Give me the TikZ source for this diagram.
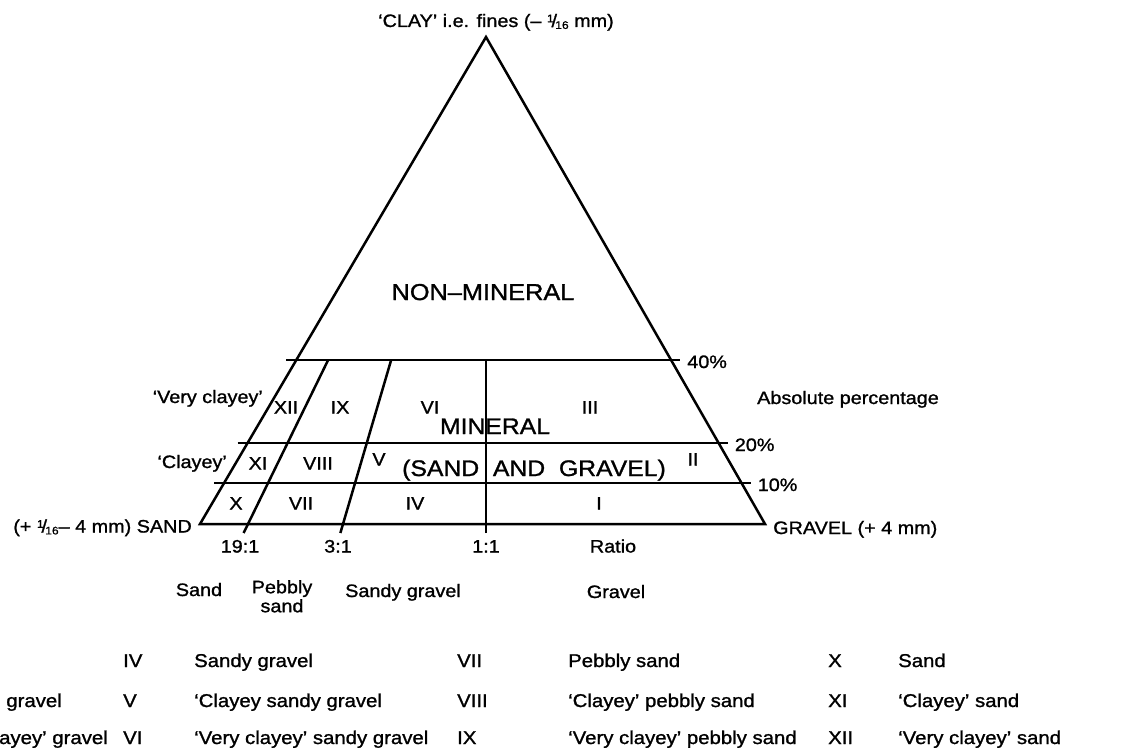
\documentclass[tikz,border=0pt]{standalone}
\usepackage{fontspec}
\setmainfont{Liberation Sans}[FakeStretch=1.1, FakeBold=1.2]
\usetikzlibrary{calc,positioning}
\newcommand{\sixteenth}{\raisebox{.5ex}{\fontsize{11}{11}\selectfont 1}\kern-.12em/\kern-.1em\raisebox{-.2ex}{\fontsize{11}{11}\selectfont 16}}

\begin{document}
\begin{tikzpicture}[x=1pt, y=-1pt,
  edge/.style={line width=2.5pt},
  lbl/.style={inner sep=0pt, anchor=base, font=\fontsize{18}{19}\selectfont},
  big/.style={inner sep=0pt, anchor=base, font=\fontsize{23}{26}\selectfont},
  pct/.style={lbl, anchor=base west, xshift=6pt, yshift=-8pt},
  key/.style={inner sep=0pt, anchor=base west, font=\fontsize{18.5}{21}\selectfont},
]
\useasboundingbox (0,0) rectangle (1126,754);
\clip (0,0) rectangle (1126,754);

% triangle
\coordinate (S) at (200,524);
\coordinate (G) at (765,524);
\coordinate (C) at (486,37);
\draw[edge] (S) -- (G) -- (C) -- cycle;

% percentage levels
\foreach \h/\p in {164/40, 81/20, 41/10} {
  \draw[edge] ($(S)!{\h/487}!(C) + (-10,0)$) -- ($(G)!{\h/487}!(C) + (9,0)$)
    node[pct] (p\p) {\p\%};
}

% ratio dividers
\foreach \x/\lx/\r/\nm in {248/240/19:1/r19, 343/338/3:1/r3, 486/486/1:1/r1} {
  \coordinate (b) at (\x,524);
  \draw[edge] ($(b)!{-9/487}!(C)$) -- ($(b)!{164/487}!(C)$);
  \node[lbl] (\nm) at (\lx,552.5) {\r};
}
\node[lbl] (ratio) at (613,552.5) {Ratio};

% corner labels
\node[lbl] (clay) at (496,27) {`CLAY' i.e. fines (-- \sixteenth\ mm)};
\node[lbl, anchor=base east] (sand) at (192,532.5) {(+ \sixteenth-- 4 mm) SAND};
\node[lbl, anchor=base west] (gravel) at (773,534) {GRAVEL (+ 4 mm)};
\node[lbl, anchor=base west] (abs) at (757,404) {Absolute percentage};

% fields
\node[big] (nonmin) at (483,300) {NON--MINERAL};
\node[big, font=\fontsize{22.5}{24}\selectfont] (mineral) at (495,434) {MINERAL};
\node[big, font=\fontsize{22.5}{24}\selectfont] (sandgravel) at (534,476) {(SAND\ \ AND\ \ GRAVEL)};

\node[lbl, anchor=base east] (vclayey) at (263,403) {`Very clayey'};
\node[lbl, anchor=base east] (clayey) at (227,468) {`Clayey'};

\foreach \x/\y/\z in {286/413.5/XII, 340/413.5/IX, 430/413.5/VI, 590/413.5/III,
                      258/469.5/XI, 318/469.5/VIII, 379/465.5/V, 693/465.5/II,
                      236/509.5/X, 301/509.5/VII, 415/509.5/IV, 599/509.5/I} {
  \node[lbl] (z\z) at (\x,\y) {\z};
}

% classes under the base
\node[lbl] (cSand) at (199,596) {Sand};
\node[lbl, align=center, anchor=north] (cPebbly) at (282,580) {Pebbly\\sand};
\node[lbl] (cSandy) at (403,597) {Sandy gravel};
\node[lbl] (cGravel) at (616,598) {Gravel};

% key
\node[key, anchor=base east] (tII) at (62,707) {`Clayey' gravel};
\node[key, anchor=base east] (tIII) at (108,744) {`Very clayey' gravel};
\foreach \y/\n/\t in {667/IV/Sandy gravel, 707/V/`Clayey sandy gravel, 744/VI/`Very clayey' sandy gravel} {
  \node[key] (k\n) at (123,\y) {\n};
  \node[key] (t\n) at (194,\y) {\t};
}
\foreach \y/\n/\t in {667/VII/Pebbly sand, 707/VIII/`Clayey' pebbly sand, 744/IX/`Very clayey' pebbly sand} {
  \node[key] (k\n) at (457,\y) {\n};
  \node[key] (t\n) at (568,\y) {\t};
}
\foreach \y/\n/\t in {667/X/Sand, 707/XI/`Clayey' sand, 744/XII/`Very clayey' sand} {
  \node[key] (k\n) at (828,\y) {\n};
  \node[key] (t\n) at (898,\y) {\t};
}
\end{tikzpicture}
\end{document}
